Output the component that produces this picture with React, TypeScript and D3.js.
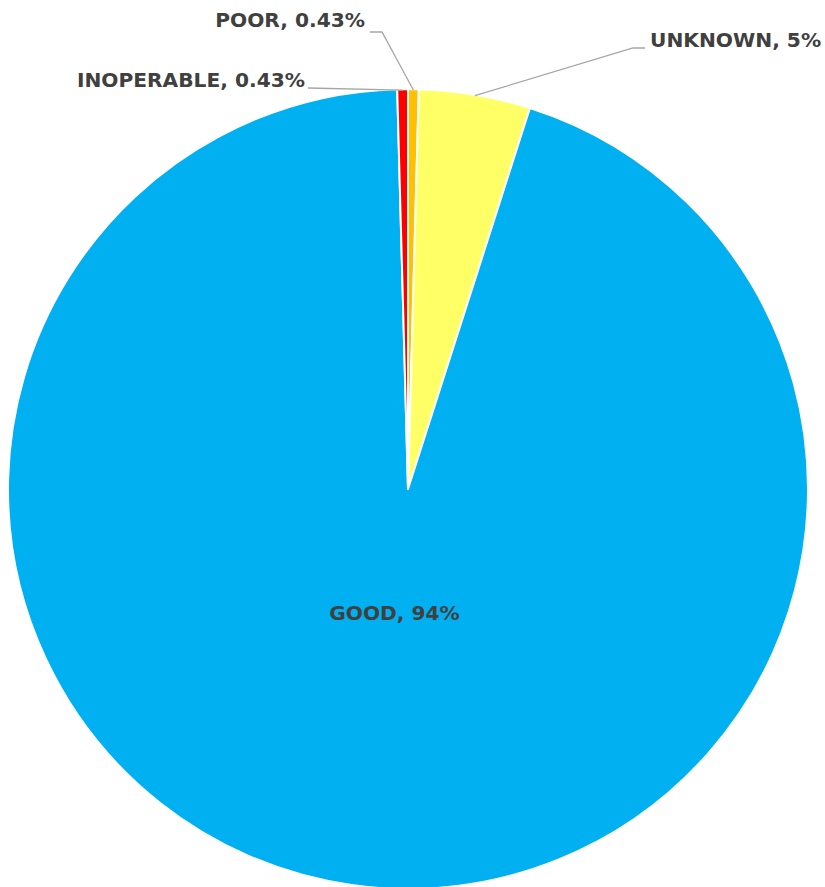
import React from "react";
import * as d3 from "d3";

const categories = ["POOR", "UNKNOWN", "GOOD", "INOPERABLE"];
const values = [0.43, 4.5, 94.64, 0.43];
const labelTexts = ["POOR, 0.43%", "UNKNOWN, 5%", "GOOD, 94%", "INOPERABLE, 0.43%"];
const colors = ["#FFC000", "#FFFF66", "#00B0F0", "#FF0000"];

const W = 825;
const H = 887;
const cx = 408;
const cy = 489;
const R = 400;

// label anchor settings (text position, elbow point)
const labelLayout = [
  { tx: 365, ty: 20, anchor: "end", elbow: [370, 32], joint: [382, 32] },
  { tx: 650, ty: 40, anchor: "start", elbow: [645, 48], joint: [633, 48] },
  { tx: 394.5, ty: 613, anchor: "middle", elbow: null, joint: null },
  { tx: 305, ty: 80, anchor: "end", elbow: [308, 88], joint: [308, 88] },
];

export default function App() {
  const pie = d3.pie<number>().sort(null).value((d) => d);
  const arcs = pie(values);
  const arcGen = d3.arc<d3.PieArcDatum<number>>().innerRadius(0).outerRadius(R);

  return (
    <svg width={W} height={H} style={{ position: "absolute", left: 0, top: 0 }}>
      <rect width={W} height={H} fill="#ffffff" />
      <g transform={`translate(${cx},${cy})`}>
        {arcs.map((a, i) => (
          <path key={categories[i]} d={arcGen(a) || ""} fill={colors[i]} stroke="#ffffff" strokeWidth={2} strokeLinejoin="round" />
        ))}
      </g>
      {arcs.map((a, i) => {
        const L = labelLayout[i];
        if (!L.elbow) return null;
        const mid = (a.startAngle + a.endAngle) / 2;
        const ex = cx + Math.sin(mid) * (R - 1);
        const ey = cy - Math.cos(mid) * (R - 1);
        const pts = [L.elbow, L.joint, [ex, ey]];
        return (
          <polyline key={"l" + i} points={pts.map((p) => p.join(",")).join(" ")} fill="none" stroke="#A6A6A6" strokeWidth={1.3} />
        );
      })}
      {arcs.map((a, i) => {
        const L = labelLayout[i];
        return (
          <text
            key={"t" + i}
            x={L.tx}
            y={L.ty}
            textAnchor={L.anchor as any}
            dominantBaseline="central"
            fontFamily="DejaVu Sans, sans-serif"
            fontWeight="bold"
            fontSize={20.2}
            fill="#404040"
          >
            {labelTexts[i]}
          </text>
        );
      })}
    </svg>
  );
}
